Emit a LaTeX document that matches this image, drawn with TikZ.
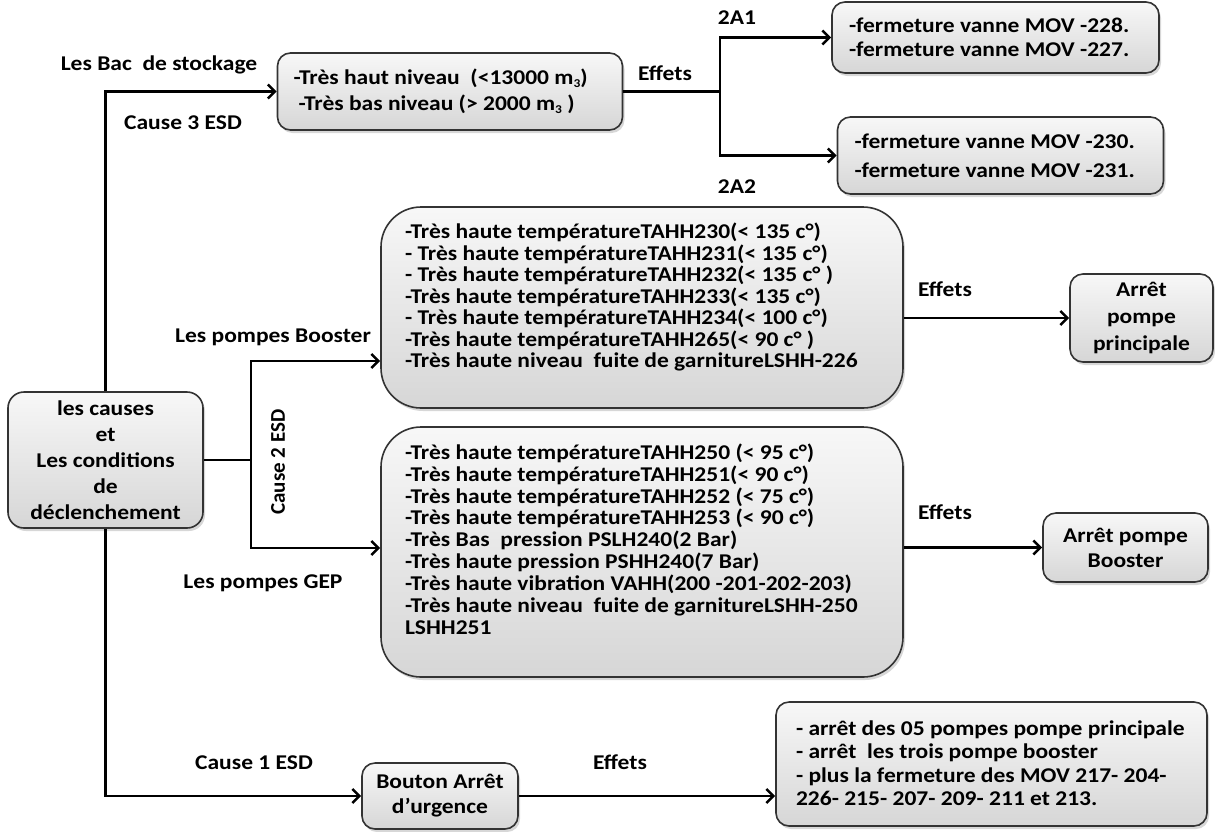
\documentclass[tikz,border=0pt]{standalone}
\usepackage{fontspec}
\setmainfont{Carlito}[FakeStretch=1.12]
\newfontfamily\uprightlabel{Carlito}
\usetikzlibrary{arrows.meta,shadows}

\newcommand{\msub}{\raisebox{-0.25ex}{\fontsize{12}{12}\selectfont 3}}
\newcommand{\fsz}[2]{\bfseries\fontsize{#1}{#2}\selectfont\lineskiplimit=-30pt}
% left-aligned block of lines: width, left indent, lines
\newcommand{\boxlines}[3]{\parbox{#1}{\raggedright\leftskip=#2\relax #3}}

\tikzset{
  box/.style={draw=black!80, line width=1.6pt, rounded corners=13pt,
    top color=gray!6, bottom color=gray!32,
    drop shadow={shadow xshift=2pt, shadow yshift=-3pt, fill=black!35, opacity=0.45},
    font=\fsz{21}{24}, inner sep=0pt},
  bigbox/.style={box, rounded corners=40pt},
  lbl/.style={font=\fsz{21}{24}, inner sep=0pt},
  wire/.style={line width=2.6pt, line join=miter},
  arr/.style={wire, -{Straight Barb[length=7pt, width=14pt, line width=2.6pt]}},
}

\begin{document}
\begin{tikzpicture}[x=1pt, y=-1pt]
\useasboundingbox (0,0) rectangle (1215,831);

% boxes
\node[box, minimum width=195pt, minimum height=136pt, align=center, rounded corners=16pt,
  font=\fsz{21}{26}] (causes) at (105.5,460)
  {les causes\\et\\Les conditions\\de\\déclenchement};

\node[box, minimum width=345pt, minimum height=77pt, font=\fsz{21}{26}] (bac) at (450,91.5)
  {\boxlines{345pt}{16pt}{-Très haut niveau \ (<13000 m\msub)\\\hspace*{5pt}-Très bas niveau (> 2000 m\msub\ )}};

\node[box, minimum width=327pt, minimum height=71pt] (mova) at (995.5,37.5)
  {\boxlines{327pt}{17pt}{-fermeture vanne MOV -228.\\-fermeture vanne MOV -227.}};
\node[box, minimum width=326pt, minimum height=77pt, font=\fsz{21}{29}] (movb) at (1000.5,155.5)
  {\boxlines{326pt}{17pt}{-fermeture vanne MOV -230.\\-fermeture vanne MOV -231.}};

\node[bigbox, minimum width=522pt, minimum height=201pt, font=\fsz{21}{21.5}] (boost) at (642,307.5)
  {\boxlines{522pt}{24pt}{-Très haute températureTAHH230(< 135 c°)\\
   - Très haute températureTAHH231(< 135 c°)\\
   - Très haute températureTAHH232(< 135 c° )\\
   -Très haute températureTAHH233(< 135 c°)\\
   - Très haute températureTAHH234(< 100 c°)\\
   -Très haute températureTAHH265(< 90 c° )\\
   -Très haute niveau \ fuite de garnitureLSHH-226\rule[-24pt]{0pt}{0pt}}};

\node[bigbox, minimum width=522pt, minimum height=250pt, font=\fsz{21}{21.9}] (gep) at (642,552)
  {\boxlines{522pt}{24pt}{-Très haute températureTAHH250 (< 95 c°)\\
   -Très haute températureTAHH251(< 90 c°)\\
   -Très haute températureTAHH252 (< 75 c°)\\
   -Très haute températureTAHH253 (< 90 c°)\\
   -Très Bas \ pression PSLH240(2 Bar)\\
   -Très haute pression PSHH240(7 Bar)\\
   -Très haute vibration VAHH(200 -201-202-203)\\
   -Très haute niveau \ fuite de garnitureLSHH-250\\
   LSHH251\rule[-26pt]{0pt}{0pt}}};

\node[box, minimum width=143pt, minimum height=88pt, align=center, font=\fsz{21}{27}] (princ) at (1141.5,318)
  {Arrêt\\pompe\\principale};
\node[box, minimum width=165pt, minimum height=69pt, align=center, font=\fsz{21}{25}] (boostarr) at (1125.5,547.5)
  {Arrêt pompe\\Booster};

\node[box, minimum width=156pt, minimum height=66pt, align=center, font=\fsz{21}{25}] (bouton) at (440,796)
  {Bouton Arrêt\\d’urgence};

\node[box, minimum width=431pt, minimum height=124pt, font=\fsz{21}{23.5}] (final) at (991.5,764)
  {\boxlines{431pt}{20pt}{- arrêt des 05 pompes pompe principale\\
   - arrêt \ les trois pompe booster\\
   - plus la fermeture des MOV 217- 204-\\
   226- 215- 207- 209- 211 et 213.\rule[-2pt]{0pt}{0pt}}};

% junction points
\coordinate (jbac) at (720,91.5);
\coordinate (jbst) at (251,361);
\coordinate (jgep) at (251,548);

% connectors
\draw[arr] (causes.north) |- (bac.west);
\draw[arr] (causes.south) |- (bouton.west);
\draw[arr] (causes.east) -| (jbst) -- (jbst -| boost.west);
\draw[arr] (causes.east) -| (jgep) -- (jgep -| gep.west);

\draw[wire] (bac.east) -- (jbac);
\draw[arr] (jbac) |- (mova.west);
\draw[arr] (jbac) |- (movb.west);

\draw[arr] (boost.east |- princ.west) -- (princ.west);
\draw[arr] (gep.east |- boostarr.west) -- (boostarr.west);
\draw[arr] (bouton.east) -- (bouton.east -| final.west);

% labels
\node[lbl] (lbac) at (159,65) {Les Bac \ de stockage};
\node[lbl] (lc3) at (183,123) {Cause 3 ESD};
\node[lbl] (le1) at (665,73) {Effets};
\node[lbl] (l2a1) at (737,18) {2A1};
\node[lbl] (l2a2) at (737,187) {2A2};
\node[lbl] (lpb) at (273,337) {Les pompes Booster};
\node[lbl] (lpg) at (263,583) {Les pompes GEP};
\node[lbl, font=\uprightlabel\fsz{21}{24}, rotate=90] (lc2) at (278,462) {Cause 2 ESD};
\node[lbl] (le2) at (945,289) {Effets};
\node[lbl] (le3) at (945,512) {Effets};
\node[lbl] (lc1) at (254,763) {Cause 1 ESD};
\node[lbl] (le4) at (620,762) {Effets};
\end{tikzpicture}
\end{document}
